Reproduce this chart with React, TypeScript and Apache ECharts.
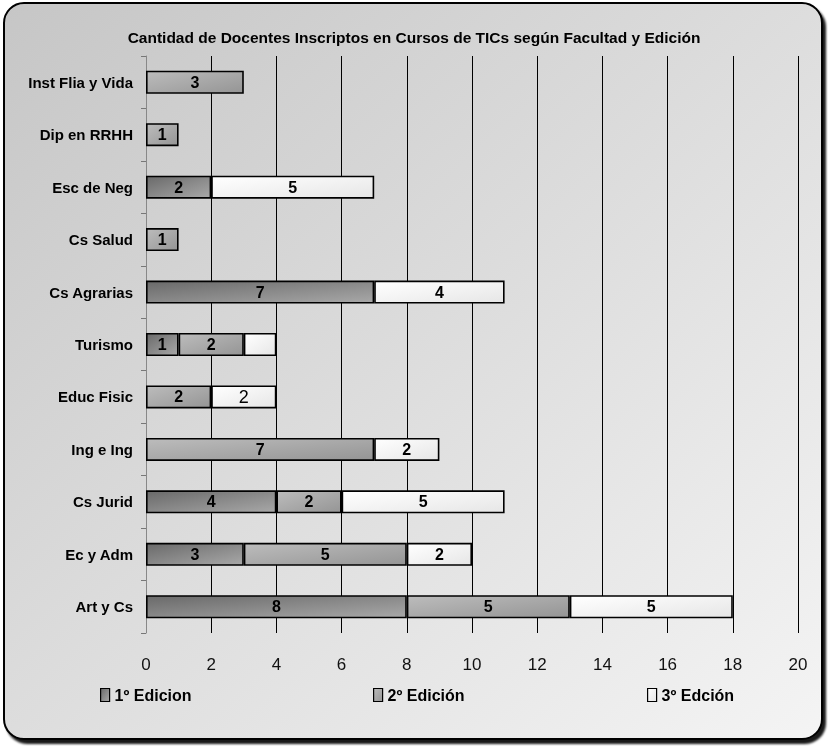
import React, { useEffect, useRef } from "react";
import * as echarts from "echarts";

const categories = [
  "Art y Cs",
  "Ec y Adm",
  "Cs Jurid",
  "Ing e Ing",
  "Educ Fisic",
  "Turismo",
  "Cs Agrarias",
  "Cs Salud",
  "Esc de Neg",
  "Dip en RRHH",
  "Inst Flia y Vida",
];
const seriesNames = ["1º Edicion", "2º Edición", "3º Edción"];
const edicion1 = [8, 3, 4, null, null, 1, 7, null, 2, null, null];
const edicion2 = [5, 5, 2, 7, 2, 2, null, 1, null, 1, 3];
const edicion3 = [5, 2, 5, 2, 2, 1, 4, null, 5, null, null];
const xTicks = [0, 2, 4, 6, 8, 10, 12, 14, 16, 18, 20];

const FONT = "'Liberation Sans', Arial, sans-serif";

function grad(c1: string, c2: string) {
  return new echarts.graphic.LinearGradient(0, 0, 1, 1, [
    { offset: 0, color: c1 },
    { offset: 1, color: c2 },
  ]);
}

export default function App() {
  const ref = useRef<HTMLDivElement>(null);
  useEffect(() => {
    if (!ref.current) return;
    const chart = echarts.init(ref.current, null, { renderer: "svg" });
    const fills = [
      grad("#6a6a6a", "#a8a8a8"),
      grad("#bcbcbc", "#959595"),
      grad("#ffffff", "#e6e6e6"),
    ];
    const baseLabel = {
      show: true,
      position: "inside",
      color: "#000",
      fontFamily: FONT,
      fontWeight: "bold",
      fontSize: 16,
    };
    const mk = (i: number, arr: (number | null)[]) => ({
      name: seriesNames[i],
      type: "bar",
      stack: "total",
      barWidth: 23,
      itemStyle: { color: fills[i], borderColor: "#000", borderWidth: 1.6 },
      label: baseLabel,
      data: arr.map((v, k) => {
        if (v === null) return "-";
        if (i === 2 && categories[k] === "Turismo")
          return { value: v, label: { show: false } };
        if (i === 2 && categories[k] === "Educ Fisic")
          return { value: v, label: { fontWeight: "normal", fontSize: 18 } };
        return v;
      }),
    });
    const legendBase = {
      orient: "horizontal",
      top: 687,
      padding: 0,
      icon: "rect",
      itemWidth: 9,
      itemHeight: 13,
      itemGap: 4,
      itemStyle: { borderColor: "#000", borderWidth: 1.2 },
      textStyle: {
        fontFamily: FONT,
        fontWeight: "bold",
        fontSize: 16,
        color: "#000",
        padding: [0, 0, 0, 0],
      },
    };
    chart.setOption({
      animation: false,
      graphic: [
        {
          type: "rect",
          z: -10,
          shape: { x: 4, y: 3, width: 818, height: 736, r: 20 },
          style: {
            fill: new echarts.graphic.LinearGradient(0, 0, 1, 1, [
              { offset: 0, color: "#c6c6c6" },
              { offset: 1, color: "#f4f4f4" },
            ]),
            stroke: "#000",
            lineWidth: 2,
            shadowBlur: 2,
            shadowOffsetX: 3,
            shadowOffsetY: 4,
            shadowColor: "rgba(0,0,0,0.9)",
          },
        },
      ],
      title: {
        text: "Cantidad de Docentes Inscriptos en Cursos de TICs según Facultad y Edición",
        left: "center",
        top: 24,
        textStyle: {
          fontFamily: FONT,
          fontWeight: "bold",
          fontSize: 15.5,
          color: "#000",
        },
      },
      legend: [
        { ...legendBase, left: 100, data: [seriesNames[0]] },
        { ...legendBase, left: 373, data: [seriesNames[1]] },
        { ...legendBase, left: 647, data: [seriesNames[2]] },
      ],
      grid: { left: 146, right: 30, top: 56, bottom: 115 },
      xAxis: {
        type: "value",
        min: xTicks[0],
        max: xTicks[xTicks.length - 1],
        interval: 2,
        axisLine: { show: false },
        axisTick: { show: false },
        axisLabel: {
          fontFamily: FONT,
          fontSize: 17,
          color: "#111",
          margin: 23,
        },
        splitLine: { show: true, lineStyle: { color: "#000", width: 1 } },
      },
      yAxis: {
        type: "category",
        data: categories,
        axisLine: { show: true, lineStyle: { color: "#888", width: 1 } },
        axisTick: { show: true, length: 5, lineStyle: { color: "#777" } },
        axisLabel: {
          fontFamily: FONT,
          fontWeight: "bold",
          fontSize: 15,
          color: "#000",
          margin: 13,
        },
        splitLine: { show: false },
      },
      series: [mk(0, edicion1), mk(1, edicion2), mk(2, edicion3)],
    });
    return () => chart.dispose();
  }, []);
  return (
    <div
      ref={ref}
      style={{ position: "fixed", left: 0, top: 0, width: 828, height: 748 }}
    />
  );
}
